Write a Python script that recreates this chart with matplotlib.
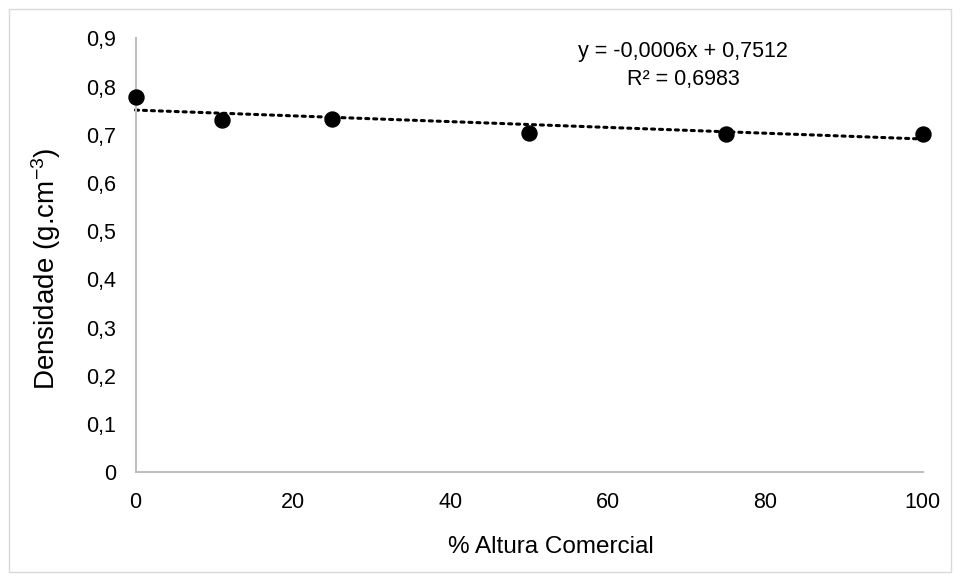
import matplotlib.pyplot as plt
from matplotlib.patches import Rectangle

plt.rcParams['font.family'] = ['Liberation Sans', 'DejaVu Sans']
plt.rcParams['mathtext.fontset'] = 'custom'
plt.rcParams['mathtext.rm'] = 'Liberation Sans'
plt.rcParams['mathtext.it'] = 'Liberation Sans'

# data
altura = [0, 11, 25, 50, 75, 100]
densidade = [0.779, 0.730, 0.732, 0.704, 0.702, 0.702]

# trendline as printed on the chart
slope = -0.0006
intercept = 0.7512
eq_text = "y = -0,0006x + 0,7512"
r2_text = "R² = 0,6983"

yticks = [0, 0.1, 0.2, 0.3, 0.4, 0.5, 0.6, 0.7, 0.8, 0.9]
ytick_labels = ["0", "0,1", "0,2", "0,3", "0,4", "0,5", "0,6", "0,7", "0,8", "0,9"]
xticks = [0, 20, 40, 60, 80, 100]

W, H = 960, 581
fig = plt.figure(figsize=(W / 100, H / 100), dpi=100)
ax = fig.add_axes([135.5 / W, 1 - 472.3 / H, (922.7 - 135.5) / W, (472.3 - 38.3) / H])

# chart area border
fig.patches.append(Rectangle((9 / W, 1 - 572 / H), (951 - 9) / W, (572 - 9) / H,
                             transform=fig.transFigure, fill=False,
                             edgecolor='#d9d9d9', linewidth=1))

trend_x = [0, 100]
trend_y = [intercept + slope * x for x in trend_x]
ax.plot(trend_x, trend_y, color='black', linewidth=2.2, linestyle=(0, (1, 1.6)),
        dash_capstyle='round', zorder=2, clip_on=False)
ax.plot(altura, densidade, 'o', color='black', markersize=10.8, zorder=3, clip_on=False)

ax.set_xlim(0, 100)
ax.set_ylim(0, 0.9)
ax.set_xticks(xticks)
ax.set_yticks(yticks)
ax.set_yticklabels(ytick_labels)
ax.tick_params(length=0, labelsize=15.5, pad=14)

for side in ['top', 'right']:
    ax.spines[side].set_visible(False)
for side in ['left', 'bottom']:
    ax.spines[side].set_color('#bfbfbf')
    ax.spines[side].set_linewidth(1.5)

fig.text(683 / W, 1 - 52 / H, eq_text, ha='center', va='center', fontsize=15.5)
fig.text(683 / W, 1 - 80 / H, r2_text, ha='center', va='center', fontsize=15.5)

fig.text(551 / W, 1 - 547 / H, "% Altura Comercial", ha='center', va='center', fontsize=17.5)
fig.text(46 / W, 1 - 269 / H, "Densidade (g.cm$^{-3}$)", ha='center', va='center',
         rotation=90, fontsize=20)

fig.savefig("out.png", dpi=100)
